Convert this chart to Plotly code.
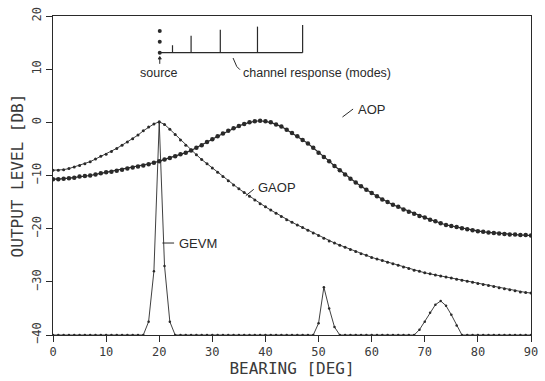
import plotly.graph_objects as go

bearing = list(range(0, 91))

aop = [-10.7, -10.7, -10.6, -10.5, -10.4, -10.2, -10.1, -10.0, -9.8, -9.6,
       -9.4, -9.3, -9.1, -8.9, -8.7, -8.5, -8.3, -8.1, -7.9, -7.6,
       -7.3, -7.0, -6.7, -6.4, -6.0, -5.7, -5.3, -4.8, -4.3, -3.7,
       -3.2, -2.6, -2.1, -1.6, -1.1, -0.7, -0.3, 0.0, 0.2, 0.3,
       0.2, 0.0, -0.4, -0.8, -1.4, -2.0, -2.6, -3.3, -4.0, -4.8,
       -5.7, -6.5, -7.3, -8.2, -9.0, -9.8, -10.6, -11.3, -12.0, -12.7,
       -13.3, -13.9, -14.5, -15.0, -15.5, -15.9, -16.4, -16.8, -17.2, -17.6,
       -17.9, -18.3, -18.6, -19.0, -19.3, -19.5, -19.7, -19.9, -20.1, -20.3,
       -20.5, -20.6, -20.7, -20.8, -20.9, -21.0, -21.1, -21.1, -21.2, -21.2,
       -21.3]

gaop = [-9.0, -9.0, -8.9, -8.7, -8.4, -8.1, -7.8, -7.4, -6.9, -6.4,
        -6.0, -5.5, -4.9, -4.3, -3.7, -3.1, -2.4, -1.6, -0.9, -0.3,
        0.1, -0.4, -1.3, -2.3, -3.3, -4.3, -5.2, -6.1, -7.0, -7.8,
        -8.6, -9.4, -10.2, -11.0, -11.8, -12.5, -13.2, -13.9, -14.6, -15.3,
        -15.9, -16.5, -17.1, -17.7, -18.3, -18.8, -19.3, -19.8, -20.3, -20.8,
        -21.3, -21.8, -22.3, -22.7, -23.1, -23.5, -23.9, -24.3, -24.7, -25.0,
        -25.4, -25.7, -26.0, -26.3, -26.6, -26.9, -27.2, -27.5, -27.8, -28.0,
        -28.3, -28.5, -28.7, -28.9, -29.1, -29.3, -29.5, -29.7, -29.9, -30.1,
        -30.3, -30.5, -30.7, -30.9, -31.1, -31.3, -31.5, -31.7, -31.9, -32.0,
        -32.1]

gevm = [
    -40, -40, -40, -40, -40, -40, -40, -40, -40, -40,
    -40, -40, -40, -40, -40, -40, -40, -40, -37.5, -28,
    0, -27, -37.5, -40, -40, -40, -40, -40, -40, -40,
    -40, -40, -40, -40, -40, -40, -40, -40, -40, -40,
    -40, -40, -40, -40, -40, -40, -40, -40, -40, -40,
    -37.8, -31, -35, -38.5, -40, -40, -40, -40, -40, -40,
    -40, -40, -40, -40, -40, -40, -40, -40, -40, -39,
    -37.5, -35.8, -34.3, -33.6, -34.5, -36.2, -38.2, -40, -40, -40,
    -40, -40, -40, -40, -40, -40, -40, -40, -40, -40,
    -40]

x_ticks = [0, 10, 20, 30, 40, 50, 60, 70, 80, 90]
y_ticks = [-40, -30, -20, -10, 0, 10, 20]

# inset sketch (source / channel response modes)
source_x = 20.1
source_dots_y = [17.2, 15.15, 13.1]
inset_base = 13.1
mode_x = [22.5, 26.0, 31.5, 38.5, 47.0]
mode_top = [14.5, 16.3, 17.4, 18.0, 18.3]

INK = "#2a2a2a"
TXT = "#3a3a3a"
PLOT_FONT = "DejaVu Sans Mono"
LBL_FONT = "Liberation Sans"

fig = go.Figure()

fig.add_trace(go.Scatter(x=bearing, y=gaop, mode="lines+markers",
                         line=dict(color=INK, width=0.9),
                         marker=dict(color=INK, size=3), name="GAOP"))
fig.add_trace(go.Scatter(x=bearing, y=aop, mode="lines+markers",
                         line=dict(color=INK, width=1.2),
                         marker=dict(color=INK, size=4.5), name="AOP"))
fig.add_trace(go.Scatter(x=bearing, y=gevm, mode="lines+markers",
                         line=dict(color=INK, width=0.9),
                         marker=dict(color=INK, size=2.5), name="GEVM"))

fig.add_trace(go.Scatter(x=[source_x] * 3, y=source_dots_y, mode="markers",
                         marker=dict(color=INK, size=4), hoverinfo="skip"))
shapes = []
shapes.append(dict(type="line", x0=source_x, x1=mode_x[-1], y0=inset_base,
                   y1=inset_base, line=dict(color=INK, width=1.2)))
for mx, mt in zip(mode_x, mode_top):
    shapes.append(dict(type="line", x0=mx, x1=mx, y0=inset_base, y1=mt,
                       line=dict(color=INK, width=1.2)))
# source arrow
shapes.append(dict(type="line", x0=source_x, x1=source_x, y0=11.0, y1=12.3,
                   line=dict(color=INK, width=1)))
shapes.append(dict(type="path", path="M 19.8,11.9 L 20.1,12.4 L 20.4,11.9 Z",
                   fillcolor=INK, line=dict(color=INK, width=0.8)))
# channel response leader
shapes.append(dict(type="path", path="M 33.9,12.1 L 34.6,10.5 L 35.2,9.9",
                   line=dict(color=INK, width=1)))
# curve label leaders
shapes.append(dict(type="line", x0=54.5, x1=56.5, y0=1.0, y1=2.5,
                   line=dict(color=INK, width=1)))
shapes.append(dict(type="line", x0=36.3, x1=37.8, y0=-13.8, y1=-12.6,
                   line=dict(color=INK, width=1)))
shapes.append(dict(type="line", x0=20.6, x1=22.8, y0=-22.7, y1=-22.7,
                   line=dict(color=INK, width=1)))
fig.update_layout(shapes=shapes)

ann = [
    dict(x=20.0, y=9.35, text="source", size=12.5, anchor="center"),
    dict(x=35.4, y=9.35, text="channel response (modes)", size=12.5, anchor="left"),
    dict(x=57.0, y=2.5, text="AOP", size=13, anchor="left"),
    dict(x=38.3, y=-12.3, text="GAOP", size=13, anchor="left"),
    dict(x=23.3, y=-22.7, text="GEVM", size=13, anchor="left"),
]
for a in ann:
    fig.add_annotation(x=a["x"], y=a["y"], text=a["text"], showarrow=False,
                       xanchor=a["anchor"], yanchor="middle",
                       font=dict(family=LBL_FONT, size=a["size"], color=INK))

fig.update_layout(
    width=545, height=381,
    margin=dict(l=53, r=7, t=12, b=45),
    paper_bgcolor="white", plot_bgcolor="white",
    showlegend=False,
    xaxis=dict(range=[0, 90], tickvals=x_ticks, ticks="outside", ticklen=6,
               tickcolor=INK, showline=True, linecolor=INK, linewidth=1,
               mirror=True, showgrid=False, zeroline=False,
               tickfont=dict(family=PLOT_FONT, size=12, color=TXT),
               title=dict(text="BEARING [DEG]", standoff=3,
                          font=dict(family=PLOT_FONT, size=16, color=TXT))),
    yaxis=dict(range=[-40, 20], tickvals=y_ticks, ticks="outside", ticklen=6,
               tickcolor=INK, showline=True, linecolor=INK, linewidth=1,
               mirror=True, showgrid=False, zeroline=False, tickangle=-90,
               tickfont=dict(family=PLOT_FONT, size=12, color=TXT),
               title=dict(text="OUTPUT LEVEL [DB]", standoff=2,
                          font=dict(family=PLOT_FONT, size=16, color=TXT))),
)

fig.write_html("out.html")
